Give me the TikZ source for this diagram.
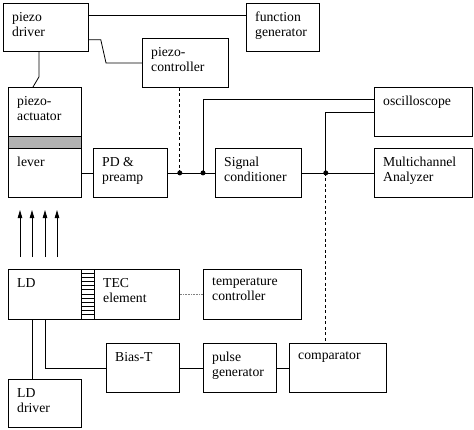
\documentclass[tikz,border=0pt]{standalone}
\usepackage{fontspec}
\setmainfont{Liberation Serif}
\usetikzlibrary{arrows.meta}

\begin{document}
\begin{tikzpicture}[
  x=1pt, y=-1pt,
  font=\fontsize{13.7}{15}\selectfont,
  blk/.style={draw, line width=0.8pt, anchor=north west, inner sep=0pt},
  txt/.style={anchor=north west, align=left, inner xsep=9pt, inner ysep=9pt},
  wire/.style={line width=0.8pt},
  ctl/.style={line width=0.8pt, dash pattern=on 3pt off 2.5pt},
  beam/.style={line width=0.8pt, -{Triangle[length=8pt,width=4.5pt]}},
]
  \useasboundingbox (0,0) rectangle (474,429);

  % top row: piezo drive
  \node[blk, minimum width=85pt, minimum height=48pt, label={[txt]north west:piezo\\driver}] (pdrv) at (3,3) {};
  \node[blk, minimum width=73pt, minimum height=48pt, label={[txt]north west:function\\generator}] (fgen) at (246,3) {};
  \node[blk, minimum width=86pt, minimum height=49pt, label={[txt]north west:piezo-\\controller}] (pctl) at (142,38) {};

  % cantilever and detection chain
  \node[blk, minimum width=73pt, minimum height=110pt,
        label={[txt]north west:piezo-\\actuator},
        label={[txt, yshift=-61pt]north west:lever}] (act) at (8,87) {};
  \draw[wire, fill=gray!60] ([yshift=-49pt]act.north west) rectangle ([yshift=-61pt]act.north east);
  \node[blk, minimum width=74pt, minimum height=49pt, label={[txt]north west:PD \&\\preamp}] (pd) at (93,148) {};
  \node[blk, minimum width=86pt, minimum height=49pt, label={[txt]north west:Signal\\conditioner}] (sig) at (215,148) {};
  \node[blk, minimum width=98pt, minimum height=49pt, label={[txt]north west:oscilloscope}] (osc) at (374,87) {};
  \node[blk, minimum width=98pt, minimum height=49pt, label={[txt]north west:Multichannel\\Analyzer}] (mca) at (374,148) {};

  % laser side
  \node[blk, minimum width=171pt, minimum height=50pt,
        label={[txt]north west:LD},
        label={[txt, xshift=86pt]north west:TEC\\element}] (ld) at (8,269) {};
  \draw[wire] ([xshift=73pt]ld.north west) rectangle ([xshift=86pt]ld.south west);
  \foreach \i in {1,...,11}
    \draw[wire] ([xshift=73pt, yshift=-\i*50pt/12]ld.north west) -- ++(13,0);
  \node[blk, minimum width=98pt, minimum height=50pt, label={[txt]north west:temperature\\controller}] (tctl) at (203,269) {};
  \node[blk, minimum width=73pt, minimum height=49pt, label={[txt]north west:Bias-T}] (bias) at (106,343) {};
  \node[blk, minimum width=73pt, minimum height=49pt, label={[txt]north west:pulse\\generator}] (pgen) at (203,343) {};
  \node[blk, minimum width=97pt, minimum height=49pt, label={[txt]north west:comparator}] (comp) at (289,343) {};
  \node[blk, minimum width=73pt, minimum height=48pt, label={[txt]north west:LD\\driver}] (lddrv) at (8,379) {};

  % junctions
  \coordinate (j1) at ([xshift=12pt]pd.east);
  \coordinate (j2) at ([xshift=-12pt]sig.west);
  \coordinate (j3) at ([xshift=24pt]sig.east);

  % wiring
  \draw[wire] ([yshift=-12pt]pdrv.north east) -- ([yshift=-12pt]fgen.north west);
  \draw[wire] ([yshift=12pt]pdrv.south east) -- ++(12,0) -- ([xshift=-36pt]pctl.west) -- (pctl.west);
  \draw[wire] ([xshift=36pt]pdrv.south west) -- ++(0,25) -- ([xshift=25pt]act.north west);
  \draw[wire] (pd.west -| act.east) -- (pd.west);
  \draw[wire] (pd) -- (sig);
  \draw[wire] (sig) -- (mca);
  \draw[ctl] (j1 |- pctl.south) -- (j1);
  \draw[wire] (j2) |- ([yshift=-12pt]osc.north west);
  \draw[wire] (j3) |- (osc.west);
  \draw[ctl] (j3) -- (j3 |- comp.north);
  \foreach \j in {j1,j2,j3}
    \fill (\j) circle (2.5pt);

  \foreach \x in {12,24,37,49}
    \draw[beam] ([xshift=\x pt, yshift=12pt]ld.north west) -- ++(0,-47);

  \draw[densely dotted, gray, line width=0.6pt] (ld) -- (tctl);
  \draw[wire] ([xshift=24pt]ld.south west) -- ([xshift=24pt]lddrv.north west);
  \draw[wire] ([xshift=37pt]ld.south west) |- (bias.west);
  \draw[wire] (bias) -- (pgen);
  \draw[wire] (pgen) -- (comp);
\end{tikzpicture}
\end{document}
